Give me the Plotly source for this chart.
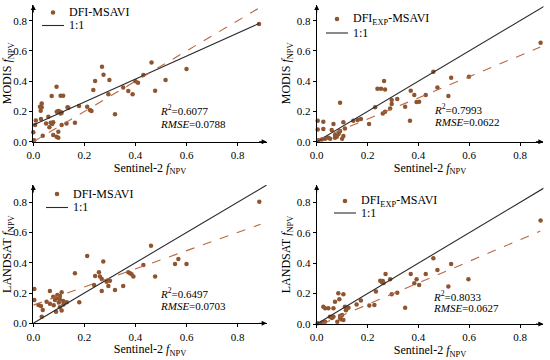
import plotly.graph_objects as go
import numpy as np

# ---------------- data ----------------
# Panel (a): MODIS vs Sentinel-2, DFI-MSAVI
x1 = [0.884,0.600,0.463,0.518,0.477,0.431,0.400,0.410,0.389,0.372,0.352,0.320,0.294,0.298,0.269,0.275,0.242,0.235,0.222,0.228,
      0.211,0.179,0.163,0.134,0.117,0.107,0.107,0.098,0.091,0.072,0.111,0.098,0.091,0.098,0.078,0.063,0.068,0.078,0.074,0.050,
      0.030,0.033,0.026,0.033,0.029,0.037,0.007,0.003,0.000,0.010,0.105,0.111,0.137,0.092,0.059,0.130]
y1 = [0.778,0.480,0.524,0.408,0.337,0.441,0.400,0.390,0.313,0.335,0.359,0.181,0.313,0.408,0.496,0.443,0.401,0.342,0.209,0.203,
      0.231,0.236,0.126,0.227,0.304,0.304,0.187,0.203,0.364,0.302,0.110,0.066,0.033,0.026,0.044,0.095,0.126,0.128,0.117,0.121,
      0.150,0.253,0.231,0.227,0.205,0.040,0.110,0.010,0.062,0.140,0.198,0.192,0.225,0.198,0.165,0.120]

# Panel (b): MODIS vs Sentinel-2, DFI_EXP-MSAVI
x2 = [0.881,0.599,0.529,0.518,0.475,0.459,0.429,0.403,0.393,0.384,0.370,0.367,0.348,0.317,0.295,0.295,0.289,0.265,0.269,0.253,
      0.239,0.269,0.260,0.230,0.206,0.174,0.161,0.144,0.092,0.105,0.111,0.105,0.092,0.088,0.079,0.072,0.066,0.053,0.046,0.033,
      0.020,0.026,0.026,0.004,0.007,0.004,0.059,0.072,0.100,0.085]
y2 = [0.655,0.430,0.423,0.302,0.359,0.463,0.309,0.264,0.262,0.309,0.337,0.139,0.231,0.282,0.275,0.249,0.220,0.401,0.346,0.350,
      0.350,0.198,0.187,0.227,0.117,0.150,0.143,0.139,0.258,0.128,0.088,0.037,0.070,0.062,0.033,0.026,0.117,0.020,0.026,0.020,
      0.015,0.132,0.084,0.139,0.010,0.080,0.077,0.044,0.020,0.050]

# Panel (c): LANDSAT vs Sentinel-2, DFI-MSAVI
x3 = [0.885,0.600,0.555,0.568,0.461,0.477,0.431,0.392,0.385,0.379,0.372,0.352,0.320,0.294,0.300,0.287,0.274,0.268,0.261,0.257,
      0.268,0.242,0.238,0.211,0.163,0.180,0.131,0.111,0.104,0.094,0.091,0.104,0.117,0.065,0.078,0.085,0.065,0.052,0.030,0.020,
      0.037,0.033,0.004,0.004,0.111,0.104,0.089,0.118,0.100,0.080]
y3 = [0.804,0.392,0.392,0.425,0.513,0.309,0.386,0.309,0.324,0.331,0.337,0.247,0.220,0.247,0.282,0.275,0.408,0.293,0.309,0.337,
      0.214,0.313,0.253,0.445,0.331,0.139,0.139,0.205,0.181,0.187,0.165,0.159,0.148,0.214,0.176,0.154,0.130,0.143,0.115,0.121,
      0.088,0.044,0.227,0.154,0.084,0.106,0.077,0.125,0.137,0.120]

# Panel (d): LANDSAT vs Sentinel-2, DFI_EXP-MSAVI
x4 = [0.881,0.597,0.529,0.518,0.475,0.459,0.429,0.403,0.393,0.384,0.370,0.348,0.317,0.295,0.289,0.271,0.260,0.257,0.263,0.250,
      0.233,0.227,0.207,0.174,0.157,0.125,0.111,0.105,0.089,0.085,0.072,0.066,0.046,0.026,0.033,0.052,0.066,0.092,0.096,0.105,
      0.033,0.020,0.004,0.081,0.115,0.100,0.092,0.060]
y4 = [0.680,0.294,0.395,0.246,0.355,0.432,0.329,0.257,0.294,0.268,0.329,0.107,0.206,0.195,0.294,0.329,0.283,0.275,0.270,0.285,
      0.213,0.125,0.121,0.154,0.129,0.107,0.114,0.195,0.162,0.202,0.147,0.103,0.103,0.114,0.103,0.048,0.048,0.053,0.031,0.026,
      0.015,0.008,0.005,0.015,0.090,0.060,0.040,0.040]

series_names = ["DFI-MSAVI", "DFI<sub>EXP</sub>-MSAVI", "DFI-MSAVI", "DFI<sub>EXP</sub>-MSAVI"]
line_name = "1:1"
y_titles = ["MODIS <i>f</i><sub>NPV</sub>", "MODIS <i>f</i><sub>NPV</sub>",
            "LANDSAT <i>f</i><sub>NPV</sub>", "LANDSAT <i>f</i><sub>NPV</sub>"]
x_title = "Sentinel-2 <i>f</i><sub>NPV</sub>"
r2_vals = ["0.6077", "0.7993", "0.6497", "0.8033"]
rmse_vals = ["0.0788", "0.0622", "0.0703", "0.0627"]
# solid ("1:1") line: intercept, slope, x-end ; dashed line: intercept, slope, x-start, x-end
solid_lines = [(0.11, 0.76, 0.884), (0.0, 1.0, 0.92), (0.0, 1.0, 0.92), (0.0, 1.0, 0.92)]
dashed_lines = [(0.0, 1.0, 0.0, 0.92), (0.01, 0.70, 0.0, 0.88), (0.12, 0.60, 0.0, 0.89), (-0.014, 0.71, 0.02, 0.88)]
tick_vals = [0.0, 0.2, 0.4, 0.6, 0.8]
tick_text = ["0.0", "0.2", "0.4", "0.6", "0.8"]

# ---------------- layout geometry (pixels) ----------------
W, H = 550, 360
FONT = "Liberation Serif"
PT_COLOR = "#8E5530"
DASH_COLOR = "#B8683F"

# plot box (px), range maxima, stats text pos/spacing, legend marker pos/row spacing
panels = [
    dict(l=33.3, r=266.7, b=141.7, t=5.0, xmax=0.914, ymax=0.904, tx=158, ty=110, tdy=14,
         lgx=53, lgy=12.5, lgdy=13),
    dict(l=316.7, r=543.4, b=141.7, t=5.0, xmax=0.892, ymax=0.904, tx=432, ty=109, tdy=13,
         lgx=337, lgy=19, lgdy=14),
    dict(l=33.3, r=266.7, b=323.3, t=185.0, xmax=0.914, ymax=0.914, tx=158, ty=293, tdy=13,
         lgx=57, lgy=194, lgdy=13.5),
    dict(l=316.7, r=543.4, b=324.0, t=185.0, xmax=0.892, ymax=0.914, tx=431, ty=296, tdy=12,
         lgx=345, lgy=201, lgdy=12),
]

fig = go.Figure()
layout = dict(width=W, height=H, margin=dict(l=0, r=0, t=0, b=0),
              paper_bgcolor="white", plot_bgcolor="white", showlegend=False,
              font=dict(family=FONT, color="black", size=11))
annotations = []
shapes = []
xs = [x1, x2, x3, x4]
ys = [y1, y2, y3, y4]

for i, p in enumerate(panels):
    k = "" if i == 0 else str(i + 1)
    xa, ya = "x" + k, "y" + k
    fig.add_trace(go.Scatter(x=xs[i], y=ys[i], mode="markers", name=series_names[i],
                             marker=dict(color=PT_COLOR, size=4.5), cliponaxis=False,
                             xaxis=xa, yaxis=ya))
    a, s, xe = solid_lines[i]
    lx = np.array([0.0, xe])
    fig.add_trace(go.Scatter(x=lx, y=a + s * lx, mode="lines", name=line_name,
                             line=dict(color="#2a2a2a", width=1.1),
                             xaxis=xa, yaxis=ya))
    a, s, x0, xe = dashed_lines[i]
    lx = np.array([x0, xe])
    fig.add_trace(go.Scatter(x=lx, y=a + s * lx, mode="lines", name="fit",
                             line=dict(color=DASH_COLOR, width=1.1, dash="dash"),
                             xaxis=xa, yaxis=ya))

    axis_common = dict(showline=True, linecolor="black", linewidth=1, ticks="outside",
                       ticklen=3, tickcolor="black", showgrid=False, zeroline=False,
                       tickvals=tick_vals, ticktext=tick_text, automargin=False,
                       tickfont=dict(family=FONT, size=11, color="black"))
    layout["xaxis" + k] = dict(axis_common, domain=[p["l"] / W, p["r"] / W],
                               range=[0, p["xmax"]], anchor=ya,
                               title=dict(text=x_title, standoff=3,
                                          font=dict(family=FONT, size=12)))
    layout["yaxis" + k] = dict(axis_common, domain=[1 - p["b"] / H, 1 - p["t"] / H],
                               range=[0, p["ymax"]], anchor=xa,
                               title=dict(text=y_titles[i], standoff=3,
                                          font=dict(family=FONT, size=12)))
    # manual legend
    mx, my, dy = p["lgx"], p["lgy"], p["lgdy"]
    shapes.append(dict(type="circle", xref="paper", yref="paper",
                       x0=(mx - 2.3) / W, x1=(mx + 2.3) / W, y0=1 - (my + 2.3) / H, y1=1 - (my - 2.3) / H,
                       fillcolor=PT_COLOR, line=dict(width=0)))
    shapes.append(dict(type="line", xref="paper", yref="paper",
                       x0=(mx - 11) / W, x1=(mx + 11) / W, y0=1 - (my + dy) / H, y1=1 - (my + dy) / H,
                       line=dict(color="#2a2a2a", width=1.1)))
    annotations.append(dict(x=(mx + 14) / W, y=1 - my / H, xref="paper", yref="paper",
                            xanchor="left", yanchor="middle", showarrow=False,
                            text=series_names[i], font=dict(family=FONT, size=12)))
    annotations.append(dict(x=(mx + 14) / W, y=1 - (my + dy) / H, xref="paper", yref="paper",
                            xanchor="left", yanchor="middle", showarrow=False,
                            text=line_name, font=dict(family=FONT, size=12)))
    # axis arrows
    annotations.append(dict(x=p["xmax"], y=0, xref=xa, yref=ya, ax=-9, ay=0, text="",
                            showarrow=True, arrowhead=2, arrowsize=1, arrowwidth=1,
                            arrowcolor="black"))
    annotations.append(dict(x=0, y=p["ymax"], xref=xa, yref=ya, ax=0, ay=9, text="",
                            showarrow=True, arrowhead=2, arrowsize=1, arrowwidth=1,
                            arrowcolor="black"))
    annotations.append(dict(x=p["tx"] / W, y=1 - p["ty"] / H, xref="paper", yref="paper",
                            xanchor="left", yanchor="middle", showarrow=False,
                            text="<i>R</i><sup>2</sup>=" + r2_vals[i],
                            font=dict(family=FONT, size=11)))
    annotations.append(dict(x=p["tx"] / W, y=1 - (p["ty"] + p["tdy"]) / H, xref="paper", yref="paper",
                            xanchor="left", yanchor="middle", showarrow=False,
                            text="<i>RMSE</i>=" + rmse_vals[i],
                            font=dict(family=FONT, size=11)))

layout["annotations"] = annotations
layout["shapes"] = shapes
fig.update_layout(**layout)
fig.write_html("out.html", config={"displayModeBar": False},
               post_script="document.body.style.margin='0px';document.body.style.overflow='hidden';")
